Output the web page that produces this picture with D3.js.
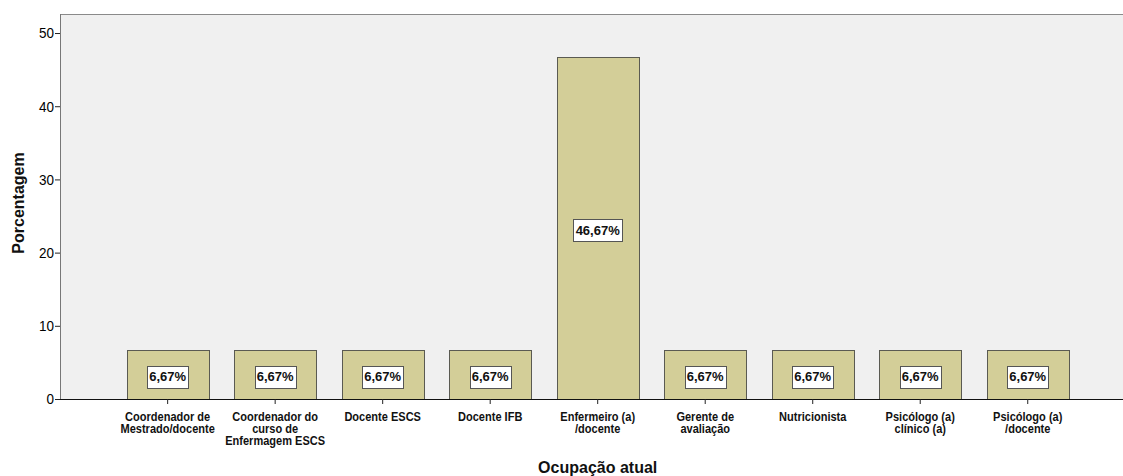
<!DOCTYPE html>
<html><head><meta charset="utf-8">
<script src="https://cdn.jsdelivr.net/npm/d3@7"></script>
<style>body{margin:0;background:#fff}svg{display:block}</style>
</head><body><svg id="c" width="1123" height="476"></svg>
<script>
const categories = [
  ["Coordenador de","Mestrado/docente"],
  ["Coordenador do","curso de","Enfermagem ESCS"],
  ["Docente ESCS"],
  ["Docente IFB"],
  ["Enfermeiro (a)","/docente"],
  ["Gerente de","avaliação"],
  ["Nutricionista"],
  ["Psicólogo (a)","clínico (a)"],
  ["Psicólogo (a)","/docente"]
];
const values = [6.67, 6.67, 6.67, 6.67, 46.67, 6.67, 6.67, 6.67, 6.67];
const valueLabels = ["6,67%","6,67%","6,67%","6,67%","46,67%","6,67%","6,67%","6,67%","6,67%"];
const yTicks = [0,10,20,30,40,50];
const yTitle = "Porcentagem";
const xTitle = "Ocupação atual";

const svg = d3.select("#c");
const plot = {l:60, t:14, r:1123, b:399};
const fontW = "'Liberation Sans',Arial,sans-serif";

const keys = categories.map((c,i)=>i);
const x = d3.scaleBand().domain(keys).range([113.9, 1081.5]).paddingInner(0.237).paddingOuter(0.1185);
const y = d3.scaleLinear().domain([0, 52.6]).range([plot.b, plot.t]);

// background
svg.append("rect").attr("x",plot.l).attr("y",plot.t).attr("width",plot.r-plot.l).attr("height",plot.b-plot.t).attr("fill","#F0F0F0");
svg.append("line").attr("x1",plot.l).attr("x2",plot.r).attr("y1",plot.t+0.5).attr("y2",plot.t+0.5).attr("stroke","#8a8a8a");

// bars
svg.selectAll("rect.bar").data(values).join("rect").attr("class","bar")
  .attr("x",(d,i)=>Math.round(x(i))+0.5).attr("y",d=>Math.round(y(d))+0.5)
  .attr("width",Math.round(x.bandwidth())).attr("height",d=>plot.b-Math.round(y(d)))
  .attr("fill","#D3CE98").attr("stroke","#5a5a52").attr("stroke-width",1);

// y axis
const ya = svg.append("g").attr("transform",`translate(${plot.l},0)`)
  .call(d3.axisLeft(y).tickValues(yTicks).tickSize(5).tickSizeOuter(0).tickPadding(1));
ya.select(".domain").attr("stroke","#777").attr("d",`M0.5,${plot.t}V${plot.b}`);
ya.selectAll(".tick line").attr("stroke","#222");
ya.selectAll(".tick text").attr("font-family",fontW).attr("font-size",15).attr("fill","#000")
  .attr("transform","translate(-6,0) scale(0.9,1)").attr("x",0);

// x axis
const xa = svg.append("g").attr("transform",`translate(0,${plot.b})`)
  .call(d3.axisBottom(x).tickSize(5).tickSizeOuter(0).tickFormat(""));
xa.select(".domain").attr("stroke","#111").attr("d",`M${plot.l},0.5H${plot.r}`);
xa.selectAll(".tick line").attr("stroke","#222");
xa.selectAll(".tick").each(function(d){
  const g = d3.select(this);
  categories[d].forEach((ln,j)=>g.append("text").attr("fill","#111").attr("text-anchor","middle")
    .attr("font-family",fontW).attr("font-weight","bold").attr("font-size",12)
    .attr("transform",`translate(0,${21.5+j*12}) scale(0.92,1)`).text(ln));
});

// value labels
values.forEach((v,i)=>{
  const cx = x(i)+x.bandwidth()/2;
  const cy = (y(v)+plot.b)/2 + 2;
  const g = svg.append("g");
  const t = g.append("text").attr("x",cx).attr("y",cy).attr("text-anchor","middle").attr("dominant-baseline","central")
    .attr("font-family",fontW).attr("font-weight","bold").attr("font-size",13).attr("fill","#111").text(valueLabels[i]);
  const bb = t.node().getBBox();
  g.insert("rect","text").attr("x",Math.round(cx-bb.width/2-2)+0.5).attr("y",Math.round(cy-11)+0.5)
    .attr("width",Math.round(bb.width+4)).attr("height",22).attr("fill","#fff").attr("stroke","#555");
});

// titles
svg.append("text").attr("x",(x.range()[0]+x.range()[1])/2).attr("y",473).attr("text-anchor","middle")
  .attr("font-family",fontW).attr("font-weight","bold").attr("font-size",16).attr("fill","#111").text(xTitle);
svg.append("text").attr("transform","translate(24,203) rotate(-90)").attr("text-anchor","middle")
  .attr("font-family",fontW).attr("font-weight","bold").attr("font-size",16).attr("fill","#111").text(yTitle);
</script></body></html>
